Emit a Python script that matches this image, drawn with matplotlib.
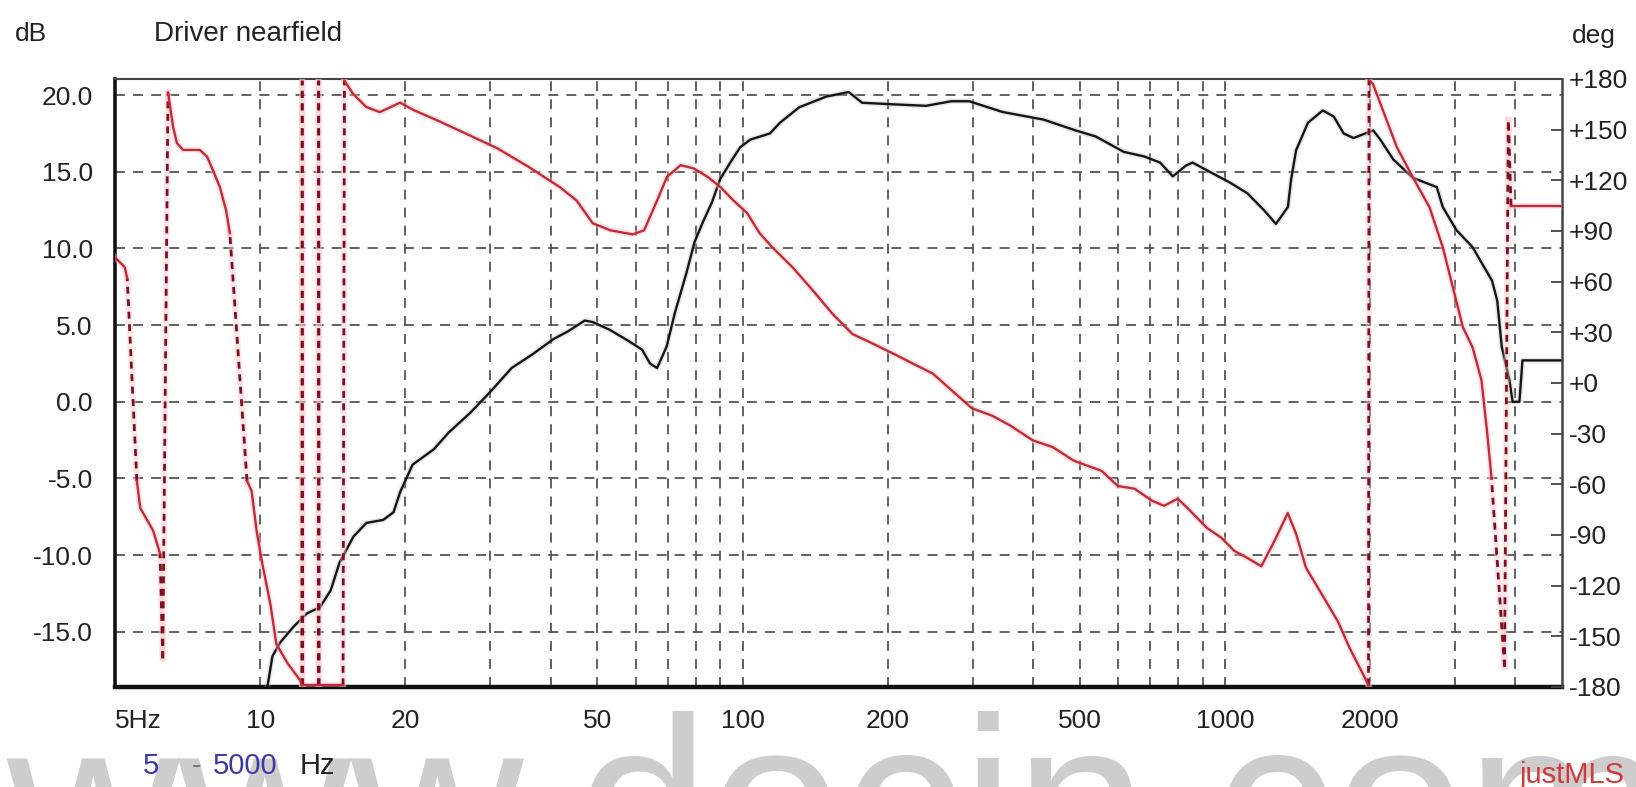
import matplotlib
matplotlib.use("Agg")
import matplotlib.pyplot as plt

plt.rcParams['font.family'] = ['Liberation Sans', 'DejaVu Sans']

# ---------------- data ----------------
mag_freq = [10.3, 10.6, 11.0, 11.7, 12.5, 13.3, 14.0, 14.6, 15.6, 16.6, 18.0, 18.9, 19.5, 20.7,
            22.9, 24.6, 27.3, 30.1, 33.2, 36.7, 40.6, 43.5, 47.1, 48.9, 53, 57.8, 61.9, 64.3,
            66.5, 69.6, 72.4, 76.5, 79.5, 82.7, 86.4, 89.8, 94.3, 98.9, 103.8, 114, 119.6, 131,
            149, 166, 177, 205, 240, 271, 295, 346, 421, 490, 540, 617, 680, 734, 780, 830,
            857, 943, 1024, 1113, 1205, 1276, 1351, 1372, 1405, 1487, 1596, 1682, 1763, 1848,
            2030, 2100, 2235, 2455, 2750, 2830, 3020, 3260, 3580, 3670, 3750, 3890, 3950, 4080,
            4140, 5000]
mag_db = [-19.0, -16.6, -15.7, -14.7, -13.8, -13.4, -12.3, -10.5, -8.8, -7.9, -7.7, -7.2, -5.9, -4.1,
          -3.1, -2.0, -0.7, 0.7, 2.2, 3.1, 4.1, 4.6, 5.3, 5.2, 4.7, 4.0, 3.4, 2.5,
          2.2, 3.6, 5.8, 8.4, 10.4, 11.7, 13.0, 14.5, 15.6, 16.6, 17.1, 17.5, 18.2, 19.2,
          19.9, 20.2, 19.5, 19.4, 19.3, 19.6, 19.6, 18.9, 18.4, 17.7, 17.3, 16.3, 16.0, 15.6, 14.7, 15.4,
          15.6, 14.9, 14.3, 13.6, 12.5, 11.6, 12.7, 14.5, 16.4, 18.2, 19.0, 18.6, 17.5, 17.2,
          17.7, 17.1, 15.8, 14.6, 14.0, 12.7, 11.2, 10.1, 7.9, 6.6, 3.6, 1.4, 0.0, 0.0,
          2.7, 2.7]

phase_freq = [5.0, 5.24, 5.3, 5.55, 5.64, 6.0, 6.2, 6.28, 6.44, 6.6, 6.72, 6.92, 7.5, 7.76, 7.98,
              8.25, 8.5, 8.65, 9.39, 9.6, 9.83, 10.1, 10.5, 10.8, 11.4, 12.1, 12.2, 12.22, 12.25,
              13.2, 13.22, 13.25, 14.85, 14.95, 15.6, 16.6, 17.7, 19.5, 20.8, 23.5, 27, 31, 36,
              41.8, 45.3, 48.9, 53.2, 59.2, 62.5, 66.5, 69.7, 74.4, 79.3, 84.7, 90, 95.8, 102.3,
              108.5, 115.6, 127, 139.7, 153.6, 169, 186, 205, 225.5, 248, 273, 299, 329, 359,
              400, 440, 486, 555, 600, 650, 706, 748, 799, 847, 917, 983, 1046, 1112, 1190,
              1270, 1350, 1405, 1473, 1573, 1714, 1815, 1952, 1985, 1990, 2028, 2126, 2272,
              2452, 2657, 2830, 2970, 3115, 3264, 3405, 3500, 3570, 3800, 3870, 3920, 5000]
phase_deg = [74.4, 68.5, 62, -58, -74, -87.5, -101, -163, 172, 151.5, 142, 138, 138, 134, 126,
             116, 102, 88.7, -58, -64, -87.5, -107, -131, -154.5, -166, -176, -179, 179, -179,
             -179, 179, -179, -179, 179, 171, 163.4, 160.4, 166, 161.6, 155, 147, 139, 128,
             116, 108, 94.6, 90.4, 88, 90.4, 108, 122, 129, 127, 122, 116, 108, 100.5,
             88.7, 80, 68.5, 55, 41, 29, 23.4, 17.5, 11.5, 5.6, -5, -15, -19.3, -25.2,
             -34, -38, -46, -52, -61, -62.6, -69.7, -72.7, -68.5, -75.6, -85.7, -91.6, -99.4, -103.5, -108.5,
             -93, -77, -89.3, -109.4, -123, -141, -157, -174.7, -179, 179.5, 177, 161.6, 139.7,
             121.9, 104, 80.4, 56.6, 33, 21, 1.5, -30, -56, -168, 156, 105, 105]

db_ticks = [20, 15, 10, 5, 0, -5, -10, -15]
db_labels = ["20.0", "15.0", "10.0", "5.0", "0.0", "-5.0", "-10.0", "-15.0"]
deg_ticks = [180, 150, 120, 90, 60, 30, 0, -30, -60, -90, -120, -150, -180]
deg_labels = ["+180", "+150", "+120", "+90", "+60", "+30", "+0", "-30", "-60", "-90",
              "-120", "-150", "-180"]
freq_ticks = [5, 10, 20, 50, 100, 200, 500, 1000, 2000]
freq_labels = ["5Hz", "10", "20", "50", "100", "200", "500", "1000", "2000"]
grid_freqs = [10, 20, 30, 40, 50, 60, 70, 80, 90, 100, 200, 300, 400, 500, 600, 700, 800, 900,
              1000, 2000, 3000, 4000]

# ---------------- figure ----------------
W, H = 1636, 787
fig = plt.figure(figsize=(W / 100, H / 100), dpi=100)
fig.patch.set_facecolor('white')

# site watermark visible along the bottom edge of the original (behind everything)
fig.text(0.511, -0.124, "www.docin.com", fontsize=172, color='#cdcdcd',
         ha='center', va='baseline', zorder=0)

L, R, T, B = 115, 1562, 79, 687
ax = fig.add_axes([L / W, 1 - B / H, (R - L) / W, (B - T) / H])
ax.set_facecolor('none')
ax.set_xscale('log')
ax.set_xlim(5, 5000)
ax.set_ylim(-18.6, 21.05)

grid_kw = dict(color='#555555', lw=1.3, linestyle=(0, (5.5, 4.5)), zorder=1)
for g in grid_freqs:
    ax.axvline(g, **grid_kw)
for d in db_ticks:
    ax.axhline(d, **grid_kw)

# magnitude curve
ax.plot(mag_freq, mag_db, color='#bbbbbb', lw=4, alpha=0.35, zorder=3, solid_capstyle='round')
ax.plot(mag_freq, mag_db, color='#151515', lw=1.7, zorder=4)

for s in ['left', 'bottom']:
    ax.spines[s].set_color('#111111')
ax.spines['left'].set_linewidth(2.6)
ax.spines['bottom'].set_linewidth(3.2)
ax.spines['top'].set_color('#444444')
ax.spines['top'].set_linewidth(1.5)
ax.spines['right'].set_visible(False)

# phase axis (shares x with ax)
ax2 = ax.twinx()
ax2.set_ylim(-180, 180)
ax2.set_yticks(deg_ticks)
ax2.set_yticklabels(deg_labels)
ax2.tick_params(axis='y', direction='in', length=8, width=1.3, color='#444444',
                labelsize=19, labelcolor='#222222', pad=5)
ax2.spines['right'].set_color('#444444')
ax2.spines['right'].set_linewidth(1.8)
for s in ['left', 'bottom', 'top']:
    ax2.spines[s].set_visible(False)

# x ticks set after twinx so the shared axis keeps them
ax.set_xticks(freq_ticks)
ax.set_xticklabels(freq_labels)
ax.xaxis.set_minor_locator(plt.NullLocator())
ax.set_yticks(db_ticks)
ax.set_yticklabels(db_labels)
ax.tick_params(axis='both', which='both', length=0, labelsize=19, colors='#222222', pad=16)
ax.get_xticklabels()[0].set_horizontalalignment('left')

# phase curve: dense parts solid, long jumps dashed (as in the original renderer)
run_f, run_d = [phase_freq[0]], [phase_deg[0]]
solid_runs, dashed_segs = [], []
for i in range(1, len(phase_freq)):
    f0, d0, f1, d1 = phase_freq[i - 1], phase_deg[i - 1], phase_freq[i], phase_deg[i]
    if abs(d1 - d0) > 40:
        if len(run_f) > 1:
            solid_runs.append((run_f, run_d))
        # always draw from bottom to top so overlapping jumps share the dash phase
        if d0 > d1:
            dashed_segs.append(([f1, f0], [d1, d0]))
        else:
            dashed_segs.append(([f0, f1], [d0, d1]))
        run_f, run_d = [f1], [d1]
    else:
        run_f.append(f1)
        run_d.append(d1)
if len(run_f) > 1:
    solid_runs.append((run_f, run_d))

for fr, dg in dashed_segs:
    ax2.plot(fr, dg, color='#ffc2ca', lw=4.5, alpha=0.4, zorder=3)
    ax2.plot(fr, dg, color='#7a1020', lw=2.0, linestyle=(0, (2.5, 2.0)), zorder=4)
for fr, dg in solid_runs:
    ax2.plot(fr, dg, color='#ffc2ca', lw=4.5, alpha=0.4, zorder=3)
    ax2.plot(fr, dg, color='#c42a36', lw=1.7, zorder=4)

# header texts
fig.text(15 / W, 1 - 34 / H, "dB", fontsize=19, color='#222222', va='center', ha='left')
fig.text(154 / W, 1 - 34 / H, "Driver nearfield", fontsize=20, color='#222222',
         va='center', ha='left')
fig.text(1572 / W, 1 - 36 / H, "deg", fontsize=19, color='#222222', va='center', ha='left')

# bottom texts
yb = 1 - 766 / H
fig.text(143 / W, yb, "5", fontsize=21, color='#3a3aa6', va='center', ha='left')
fig.text(192 / W, yb, "-", fontsize=21, color='#777777', va='center', ha='left')
fig.text(213 / W, yb, "5000", fontsize=21, color='#3a3aa6', va='center', ha='left')
fig.text(300 / W, yb, "Hz", fontsize=21, color='#222222', va='center', ha='left')
fig.text(1520 / W, 1 - 783 / H, "justMLS", fontsize=21, color='#d23a3a',
         va='baseline', ha='left')

fig.savefig("out.png", dpi=100, facecolor='white')
